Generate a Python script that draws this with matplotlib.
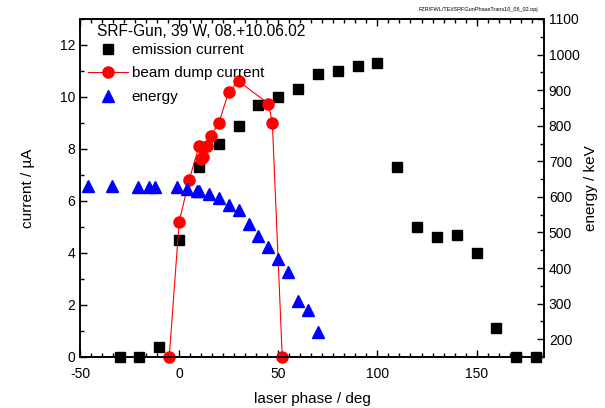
import matplotlib.pyplot as plt
from matplotlib.ticker import MultipleLocator, AutoMinorLocator
from matplotlib.lines import Line2D

plt.rcParams['font.family'] = ['Liberation Sans', 'DejaVu Sans']
plt.rcParams['axes.unicode_minus'] = False

# emission current (black squares), left axis
emis_phase = [-30, -20, -10, 0, 10, 20, 30, 40, 50, 60, 70, 80, 90, 100,
              110, 120, 130, 140, 150, 160, 170, 180]
emis_current = [0, 0, 0.38, 4.5, 7.3, 8.2, 8.9, 9.7, 10.0, 10.3, 10.9, 11.0, 11.2, 11.3,
                7.3, 5.0, 4.6, 4.7, 4.0, 1.1, 0, 0]

# beam dump current (red circles + line), left axis
dump_phase = [-5, 0, 5, 10, 11, 12, 14, 16, 20, 25, 30, 45, 47, 52]
dump_current = [0, 5.2, 6.8, 8.1, 7.6, 7.7, 8.1, 8.5, 9.0, 10.2, 10.6, 9.75, 9.0, 0]

# energy (blue triangles), right axis
en_phase = [-46, -34, -21, -15, -12, -1, 4, 9, 10, 15, 20, 25, 30, 35, 40,
            45, 50, 55, 60, 65, 70]
en_kev = [632, 632, 629, 629, 629, 629, 623, 617, 617, 609, 596, 578, 562, 525, 491,
          460, 425, 389, 307, 282, 221]

fig = plt.figure(figsize=(6.05, 4.08), dpi=100)
ax1 = fig.add_axes([80 / 605, 51 / 408, 464 / 605, 338 / 408])
ax2 = ax1.twinx()

ax1.plot(emis_phase, emis_current, 's', color='black', markersize=7, linestyle='none',
         clip_on=False, zorder=3)
ax1.plot(dump_phase, dump_current, '-o', color='red', markersize=8, linewidth=0.8,
         clip_on=False, zorder=4)
ax2.plot(en_phase, en_kev, '^', color='blue', markersize=8, linestyle='none', clip_on=False)

ax1.set_xlim(-50, 184)
ax1.set_ylim(0, 13)
ax2.set_ylim(150, 1100)

ax1.xaxis.set_major_locator(MultipleLocator(50))
ax1.xaxis.set_minor_locator(AutoMinorLocator(9))
ax1.yaxis.set_major_locator(MultipleLocator(2))
ax1.yaxis.set_minor_locator(MultipleLocator(1))
ax2.yaxis.set_major_locator(MultipleLocator(100))
ax2.yaxis.set_minor_locator(MultipleLocator(50))

ax1.tick_params(which='both', direction='in', top=True, labelsize=10, width=1)
ax1.tick_params(which='major', length=5)
ax1.tick_params(which='minor', length=3)
ax1.tick_params(axis='x', which='major', pad=7)
ax2.tick_params(which='both', direction='in', labelsize=10, width=1)
ax2.tick_params(which='major', length=5)
ax2.tick_params(which='minor', length=3)
for ax in (ax1, ax2):
    for s in ax.spines.values():
        s.set_linewidth(1.2)

ax1.set_xlabel('laser phase / deg', fontsize=11, labelpad=8)
ax1.set_ylabel('current / µA', fontsize=11, labelpad=18)
ax2.set_ylabel('energy / keV', fontsize=11, labelpad=3)

# legend title as a separate text, indented like the original
ax1.text((97 - 80) / 464, (357 - 32) / 338, 'SRF-Gun, 39 W, 08.+10.06.02',
         transform=ax1.transAxes, fontsize=11.2, ha='left', va='center', zorder=10)

handles = [
    Line2D([], [], marker='s', color='black', linestyle='none', markersize=7),
    Line2D([], [], marker='o', color='red', linewidth=0.8, markersize=8),
    Line2D([], [], marker='^', color='blue', linestyle='none', markersize=8),
]
leg = ax2.legend(handles, ['emission current', 'beam dump current', 'energy'],
                 loc='upper left', bbox_to_anchor=((88 - 80) / 464, 1 - (43 - 19) / 338),
                 frameon=False, fontsize=11, handlelength=2.6, handletextpad=0.25,
                 labelspacing=0.62, borderaxespad=0, borderpad=0)

fig.text(538 / 605, 1 - 9 / 408, 'FZR/FWL/TEI/SRFGunPhaseTrans10_06_02.opj',
         fontsize=4, ha='right', va='center')

fig.savefig('out.png', dpi=100)
